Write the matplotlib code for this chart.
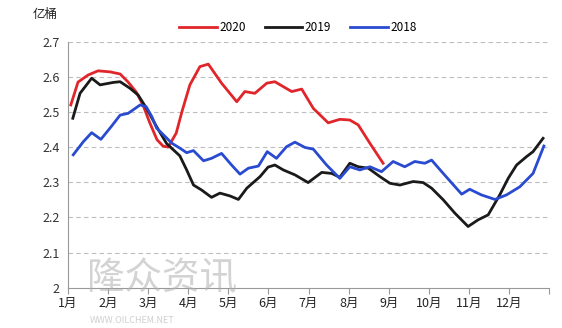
import matplotlib.pyplot as plt
import numpy as np

plt.rcParams['font.family'] = ['Noto Sans CJK SC', 'DejaVu Sans']

# x positions in months (0 = start of Jan), values in 亿桶
x2020 = [0.07, 0.25, 0.50, 0.75, 1.05, 1.30, 1.50, 1.70, 1.87, 2.04, 2.22, 2.37, 2.50, 2.70,
         2.84, 3.04, 3.29, 3.50, 3.83, 4.21, 4.41, 4.66, 4.96, 5.16, 5.58, 5.83, 6.12,
         6.49, 6.78, 7.03, 7.24, 7.53, 7.86]
y2020 = [2.52, 2.585, 2.605, 2.617, 2.614, 2.608, 2.585, 2.557, 2.52, 2.469, 2.421, 2.403, 2.40, 2.44,
         2.50, 2.577, 2.629, 2.636, 2.582, 2.529, 2.558, 2.553, 2.582, 2.586, 2.558, 2.565, 2.510,
         2.469, 2.479, 2.477, 2.463, 2.411, 2.354]

x2019 = [0.12, 0.30, 0.59, 0.80, 1.13, 1.30, 1.55, 1.75, 1.96, 2.21, 2.46, 2.63, 2.79, 2.96,
         3.13, 3.33, 3.58, 3.79, 4.04, 4.25, 4.46, 4.79, 4.99, 5.16, 5.37, 5.66, 5.99, 6.33,
         6.58, 6.78, 7.03, 7.24, 7.49, 7.78, 8.03, 8.28, 8.61, 8.86, 9.07, 9.36, 9.65, 9.98,
         10.23, 10.48, 10.77, 10.98, 11.19, 11.44, 11.60, 11.85]
y2019 = [2.482, 2.553, 2.596, 2.577, 2.584, 2.586, 2.567, 2.548, 2.51, 2.458, 2.41, 2.392, 2.375, 2.335,
         2.292, 2.278, 2.257, 2.269, 2.261, 2.251, 2.283, 2.316, 2.343, 2.349, 2.335, 2.321, 2.299, 2.328,
         2.325, 2.314, 2.354, 2.344, 2.340, 2.316, 2.297, 2.292, 2.302, 2.299, 2.283, 2.25, 2.212, 2.174,
         2.193, 2.207, 2.264, 2.311, 2.349, 2.373, 2.387, 2.425]

x2018 = [0.13, 0.38, 0.59, 0.82, 1.09, 1.30, 1.50, 1.80, 1.95, 2.09, 2.21, 2.38, 2.59, 2.79,
         2.96, 3.13, 3.38, 3.58, 3.83, 4.08, 4.29, 4.50, 4.75, 4.97, 5.20, 5.45, 5.66, 5.91,
         6.12, 6.45, 6.78, 7.03, 7.28, 7.53, 7.82, 8.11, 8.40, 8.65, 8.90, 9.07, 9.36, 9.82,
         10.02, 10.31, 10.65, 10.94, 11.27, 11.60, 11.87]
y2018 = [2.378, 2.415, 2.441, 2.422, 2.46, 2.491, 2.496, 2.52, 2.515, 2.487, 2.454, 2.435, 2.411, 2.397,
         2.384, 2.39, 2.361, 2.368, 2.382, 2.349, 2.323, 2.340, 2.346, 2.387, 2.368, 2.401, 2.414, 2.399,
         2.394, 2.349, 2.311, 2.344, 2.335, 2.344, 2.330, 2.359, 2.344, 2.359, 2.354, 2.363, 2.325, 2.266,
         2.28, 2.264, 2.251, 2.264, 2.287, 2.325, 2.403]

months = ['1月', '2月', '3月', '4月', '5月', '6月', '7月', '8月', '9月', '10月', '11月', '12月']
yticks = [2.0, 2.1, 2.2, 2.3, 2.4, 2.5, 2.6, 2.7]
ytick_labels = ['2', '2.1', '2.2', '2.3', '2.4', '2.5', '2.6', '2.7']

fig = plt.figure(figsize=(5.62, 3.28), dpi=100)
ax = fig.add_axes([0.121, 0.123, 0.856, 0.750])

ax.plot(x2020, y2020, color='#e0262b', linewidth=2, label='2020', zorder=3)
ax.plot(x2019, y2019, color='#1a1a1a', linewidth=2, label='2019', zorder=3)
ax.plot(x2018, y2018, color='#2a4bd0', linewidth=2, label='2018', zorder=3)

ax.set_xlim(0, 12)
ax.set_ylim(2.0, 2.7)
ax.set_yticks(yticks)
ax.set_yticklabels(ytick_labels)
ax.set_xticks(np.arange(13))
ax.set_xticklabels(months + [''])

for y in yticks[1:]:
    ax.axhline(y, color='#bdbdbd', linewidth=0.8, dashes=(4, 3), zorder=1)

for s in ['top', 'right']:
    ax.spines[s].set_visible(False)
ax.spines['left'].set_color('#999999')
ax.spines['bottom'].set_color('#999999')
ax.tick_params(axis='y', length=0, labelsize=9, pad=6, colors='#333333')
ax.tick_params(axis='x', length=4, direction='out', color='#999999', labelsize=9, pad=3, labelcolor='#222222')

fig.text(0.058, 0.955, '亿桶', fontsize=9, ha='left', va='center', color='#222222')

fig.legend(loc='center', bbox_to_anchor=(0.53, 0.915), ncol=3, frameon=False,
           fontsize=8.5, handlelength=3.2, handletextpad=0.2, columnspacing=1.6)

# watermark
fig.text(0.155, 0.152, '隆众资讯', fontsize=27, color='#b0b0b0', alpha=0.55, ha='left', va='center', zorder=0)
fig.text(0.16, 0.022, 'WWW.OILCHEM.NET', fontsize=6.5, color='#b0b0b0', alpha=0.6, ha='left', va='center')

fig.savefig('out.png', dpi=100)
